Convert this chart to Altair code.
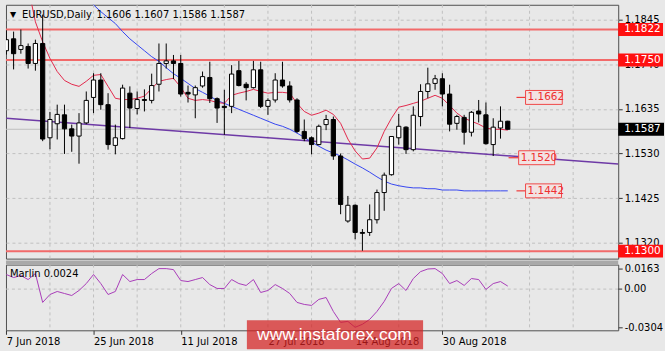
import json
import altair as alt
import pandas as pd

# ---------------- data ----------------
bar_index = list(range(70))
open_ = [1.1772, 1.1800, 1.1775, 1.1782, 1.1742, 1.1789, 1.1567, 1.1600, 1.1621, 1.1588,
         1.1571, 1.1602, 1.1662, 1.1703, 1.1645, 1.1549, 1.1565, 1.1672, 1.1636, 1.1657,
         1.1655, 1.1693, 1.1742, 1.1748, 1.1742, 1.1674, 1.1668, 1.1689, 1.1709, 1.1659,
         1.1641, 1.1641, 1.1725, 1.1693, 1.1685, 1.1727, 1.1641, 1.1656, 1.1703, 1.1689,
         1.1656, 1.1582, 1.1567, 1.1551, 1.1598, 1.1610, 1.1524, 1.1371, 1.1408, 1.1344,
         1.1344, 1.1374, 1.1438, 1.1480, 1.1567, 1.1592, 1.1539, 1.1617, 1.1676, 1.1695,
         1.1706, 1.1670, 1.1601, 1.1615, 1.1580, 1.1630, 1.1621, 1.1551, 1.1590, 1.1606]
high = [1.1820, 1.1817, 1.1822, 1.1789, 1.1798, 1.1857, 1.1628, 1.1645, 1.1645, 1.1598,
        1.1625, 1.1676, 1.1719, 1.1719, 1.1672, 1.1598, 1.1692, 1.1688, 1.1676, 1.1681,
        1.1718, 1.1789, 1.1789, 1.1762, 1.1762, 1.1690, 1.1690, 1.1723, 1.1746, 1.1662,
        1.1680, 1.1738, 1.1748, 1.1698, 1.1748, 1.1746, 1.1660, 1.1719, 1.1746, 1.1700,
        1.1660, 1.1610, 1.1570, 1.1598, 1.1621, 1.1617, 1.1530, 1.1430, 1.1410, 1.1352,
        1.1410, 1.1445, 1.1485, 1.1570, 1.1623, 1.1594, 1.1641, 1.1693, 1.1732, 1.1715,
        1.1719, 1.1692, 1.1621, 1.1621, 1.1630, 1.1656, 1.1650, 1.1613, 1.1641, 1.1607]
low = [1.1763, 1.1728, 1.1765, 1.1730, 1.1725, 1.1559, 1.1540, 1.1563, 1.1529, 1.1534,
       1.1506, 1.1599, 1.1625, 1.1633, 1.1539, 1.1528, 1.1563, 1.1590, 1.1622, 1.1629,
       1.1648, 1.1676, 1.1730, 1.1705, 1.1664, 1.1650, 1.1613, 1.1685, 1.1649, 1.1602,
       1.1574, 1.1625, 1.1688, 1.1655, 1.1683, 1.1637, 1.1621, 1.1650, 1.1685, 1.1650,
       1.1578, 1.1559, 1.1528, 1.1549, 1.1585, 1.1515, 1.1387, 1.1367, 1.1328, 1.1301,
       1.1336, 1.1365, 1.1395, 1.1478, 1.1551, 1.1529, 1.1535, 1.1594, 1.1660, 1.1680,
       1.1641, 1.1582, 1.1586, 1.1551, 1.1570, 1.1603, 1.1551, 1.1524, 1.1565, 1.1586]
close = [1.1798, 1.1765, 1.1784, 1.1742, 1.1789, 1.1564, 1.1610, 1.1622, 1.1588, 1.1571,
         1.1602, 1.1655, 1.1703, 1.1645, 1.1551, 1.1567, 1.1684, 1.1637, 1.1657, 1.1655,
         1.1690, 1.1742, 1.1748, 1.1742, 1.1670, 1.1670, 1.1685, 1.1711, 1.1659, 1.1637,
         1.1638, 1.1717, 1.1690, 1.1685, 1.1727, 1.1641, 1.1655, 1.1703, 1.1689, 1.1656,
         1.1582, 1.1565, 1.1551, 1.1594, 1.1610, 1.1524, 1.1410, 1.1408, 1.1344, 1.1342,
         1.1374, 1.1438, 1.1479, 1.1570, 1.1594, 1.1539, 1.1620, 1.1676, 1.1694, 1.1706,
         1.1670, 1.1599, 1.1617, 1.1580, 1.1627, 1.1623, 1.1553, 1.1592, 1.1606, 1.1587]

red_ma_index = list(range(3, 70))
red_ma = [1.1922, 1.1840, 1.1793, 1.1754, 1.1723, 1.1702, 1.1693, 1.1688, 1.1700, 1.1714,
          1.1716, 1.1688, 1.1660, 1.1657, 1.1657, 1.1660, 1.1665, 1.1683, 1.1700, 1.1704,
          1.1707, 1.1686, 1.1660, 1.1655, 1.1657, 1.1655, 1.1650, 1.1648, 1.1667, 1.1672,
          1.1676, 1.1681, 1.1676, 1.1672, 1.1674, 1.1674, 1.1672, 1.1648, 1.1629, 1.1620,
          1.1625, 1.1632, 1.1622, 1.1601, 1.1564, 1.1536, 1.1517, 1.1519, 1.1543, 1.1582,
          1.1613, 1.1639, 1.1643, 1.1648, 1.1653, 1.1660, 1.1667, 1.1660, 1.1643, 1.1625,
          1.1613, 1.1606, 1.1599, 1.1590, 1.1587, 1.1587, 1.1585]

blue_ma_index = list(range(11, 70))
blue_ma = [1.1899, 1.1880, 1.1864, 1.1850, 1.1836, 1.1817, 1.1800, 1.1786, 1.1772, 1.1758,
           1.1747, 1.1732, 1.1718, 1.1707, 1.1695, 1.1683, 1.1674, 1.1665, 1.1655, 1.1648,
           1.1641, 1.1634, 1.1627, 1.1620, 1.1613, 1.1606, 1.1599, 1.1594, 1.1587, 1.1578,
           1.1568, 1.1557, 1.1547, 1.1538, 1.1531, 1.1524, 1.1515, 1.1505, 1.1496, 1.1486,
           1.1475, 1.1465, 1.1458, 1.1454, 1.1451, 1.1449, 1.1449, 1.1447, 1.1447, 1.1444,
           1.1444, 1.1444, 1.1442, 1.1442, 1.1442, 1.1442, 1.1442, 1.1442, 1.1442]

marlin = [0.0116, 0.0092, 0.0108, 0.0076, 0.0124, -0.0106, -0.0043, -0.0019, -0.0035, -0.0051,
          -0.0011, 0.0044, 0.0116, 0.0044, -0.0043, -0.0019, 0.0116, 0.0060, 0.0076, 0.0076,
          0.0124, 0.0163, 0.0163, 0.0155, 0.0068, 0.0060, 0.0076, 0.0092, 0.0036, 0.0005,
          0.0005, 0.0076, 0.0044, 0.0029, 0.0076, -0.0027, -0.0011, 0.0036, 0.0005, -0.0035,
          -0.0106, -0.0122, -0.0130, -0.0082, -0.0067, -0.0178, -0.0265, -0.0257, -0.0304, -0.0280,
          -0.0241, -0.0178, -0.0098, 0.0005, 0.0044, -0.0011, 0.0084, 0.0139, 0.0160, 0.0163,
          0.0124, 0.0044, 0.0068, 0.0029, 0.0084, 0.0076, -0.0003, 0.0044, 0.0060, 0.0024]

trend_index = [0, 84.2]
trend_price = [1.1613, 1.1505]

level_values = [1.1822, 1.1750, 1.1300]
level_labels = ["1.1822", "1.1750", "1.1300"]
current_price = [1.1587]
current_label = ["1.1587"]

annot_values = [1.1662, 1.1520, 1.1442]
annot_labels = ["1.1662", "1.1520", "1.1442"]
annot_start = [71.45, 70.5, 71.45]     # box left edge (bar units)
annot_end = [76.5, 75.45, 76.4]        # box right edge (bar units)
annot_dash_start = [70.2, 69.1, 70.2]

price_ticks = [1.1845, 1.1740, 1.1635, 1.1530, 1.1425, 1.1320]
date_tick_index = [0, 12, 24, 36, 48, 60]
date_labels = ["7 Jun 2018", "25 Jun 2018", "11 Jul 2018", "27 Jul 2018", "14 Aug 2018", "30 Aug 2018"]
grid_index = list(range(6, 84, 6))
marlin_ticks = [0.0163, 0.0, -0.0304]
marlin_tick_labels = ["0.0163", "0.00", "-0.0304"]

header_symbol = ["EURUSD,Daily"]
header_ohlc = ["1.1606 1.1607 1.1586 1.1587"]
marlin_title = ["Marlin 0.0024"]
watermark = ["www.instaforex.com"]

# ---------------- styling ----------------
FONT = "DejaVu Sans"
BG = "#e8e8e8"
W = 615
H_MAIN = 255
H_LOW = 66

xs = alt.Scale(domain=[-0.05, 84.2], nice=False, zero=False)
ys = alt.Scale(domain=[1.12824, 1.18802], nice=False, zero=False)
ms = alt.Scale(domain=[-0.0328, 0.0195], nice=False, zero=False)


def xn(field):
    return alt.X(field, type="quantitative", scale=xs, axis=None)


def xq(field):
    return alt.X(field, type="quantitative", scale=xs, title=None)


def yq(field):
    return alt.Y(field, type="quantitative", scale=ys, title=None)


def mq(field):
    return alt.Y(field, type="quantitative", scale=ms, title=None)


candles = pd.DataFrame({"i": bar_index, "o": open_, "h": high, "l": low, "c": close})
candles["top"] = candles[["o", "c"]].max(axis=1)
candles["bot"] = candles[["o", "c"]].min(axis=1)
candles["dir"] = ["up" if c >= o else "down" for o, c in zip(open_, close)]

grid_df = pd.DataFrame({"g": grid_index})

y_axis_main = alt.Axis(
    orient="right", values=price_ticks, format=".4f", grid=True, gridDash=[3, 3],
    gridColor="#c0c0c0", tickSize=4, tickColor="#333333", labelFont=FONT, labelFontSize=10,
    labelColor="black", labelPadding=2, domain=False, title=None, labelOverlap=False)

vgrid = alt.Chart(grid_df).mark_rule(color="#c0c0c0", strokeDash=[3, 3], strokeWidth=1).encode(
    x=xn("g"))

cur_df = pd.DataFrame({"p": current_price, "t": current_label})
cur_line = alt.Chart(cur_df).mark_rule(color="#bdbdbd", strokeWidth=1).encode(
    y=alt.Y("p:Q", scale=ys, axis=y_axis_main))

lev_df = pd.DataFrame({"p": level_values, "t": level_labels})
lev_lines = alt.Chart(lev_df).mark_rule(color="#f26a6a", strokeWidth=2).encode(y=yq("p"))

trend_df = pd.DataFrame({"i": trend_index, "p": trend_price})
trend = alt.Chart(trend_df).mark_line(color="#6e3aa6", strokeWidth=1.5, clip=True).encode(x=xn("i"), y=yq("p"))

blue_df = pd.DataFrame({"i": blue_ma_index, "p": blue_ma})
blue = alt.Chart(blue_df).mark_line(color="#3546f0", strokeWidth=1, clip=True).encode(x=xn("i"), y=yq("p"))

red_df = pd.DataFrame({"i": red_ma_index, "p": red_ma})
red = alt.Chart(red_df).mark_line(color="#e2284c", strokeWidth=1, clip=True).encode(x=xn("i"), y=yq("p"))

wicks = alt.Chart(candles).mark_rule(color="black", strokeWidth=1, clip=True).encode(
    x=xn("i"), y=yq("l"), y2="h:Q")

bodies = alt.Chart(candles).transform_calculate(
    xl="datum.i - 0.29", xr="datum.i + 0.29"
).mark_rect(stroke="black", strokeWidth=1, clip=True).encode(
    x=xn("xl:Q"), x2="xr:Q", y=yq("bot"), y2="top:Q",
    fill=alt.Fill("dir:N", scale=alt.Scale(domain=["up", "down"], range=["white", "black"]), legend=None),
)

ann_df = pd.DataFrame({"p": annot_values, "t": annot_labels, "s": annot_start,
                       "e": annot_end, "d": annot_dash_start})
ann_dash = alt.Chart(ann_df).mark_rule(color="#f03a3a", strokeWidth=1.2).encode(
    x=xn("d"), x2="s:Q", y=yq("p"))
ann_box = alt.Chart(ann_df).mark_rect(fill="#f2e2e2", stroke="#f04848", strokeWidth=1,
                                      yOffset=-7, y2Offset=7).encode(
    x=xn("s"), x2="e:Q", y=yq("p"), y2="p:Q")
ann_text = alt.Chart(ann_df).mark_text(align="left", baseline="middle", dx=2, font=FONT,
                                       fontSize=10.5, color="#ee3030").encode(
    x=xn("s"), y=yq("p"), text="t:N")

tag_box = alt.Chart(lev_df).mark_rect(fill="#ff1010", yOffset=-6.5, y2Offset=6.5, clip=False).encode(
    x=alt.value(W), x2=alt.value(W + 45), y=yq("p"), y2="p:Q")
tag_text = alt.Chart(lev_df).mark_text(align="left", baseline="middle", font=FONT, fontSize=10.5,
                                       color="white", clip=False).encode(
    x=alt.value(W + 6), y=yq("p"), text="t:N")
cur_box = alt.Chart(cur_df).mark_rect(fill="black", yOffset=-6.5, y2Offset=6.5, clip=False).encode(
    x=alt.value(W), x2=alt.value(W + 46), y=yq("p"), y2="p:Q")
cur_text = alt.Chart(cur_df).mark_text(align="left", baseline="middle", font=FONT, fontSize=10.5,
                                       color="white", clip=False).encode(
    x=alt.value(W + 6), y=yq("p"), text="t:N")

hdr1 = alt.Chart(pd.DataFrame({"t": ["\u25BC"]})).mark_text(
    align="left", baseline="middle", font=FONT, fontSize=8, color="black").encode(
    x=alt.value(4), y=alt.value(10), text="t:N")
hdr2 = alt.Chart(pd.DataFrame({"t": header_symbol})).mark_text(
    align="left", baseline="middle", font=FONT, fontSize=10, color="black").encode(
    x=alt.value(16), y=alt.value(10), text="t:N")
hdr3 = alt.Chart(pd.DataFrame({"t": header_ohlc})).mark_text(
    align="left", baseline="middle", font=FONT, fontSize=10, color="black").encode(
    x=alt.value(91), y=alt.value(10), text="t:N")

main = alt.layer(
    vgrid, cur_line, lev_lines, trend, blue, red, wicks, bodies,
    ann_dash, ann_box, ann_text, tag_box, tag_text, cur_box, cur_text, hdr1, hdr2, hdr3,
).properties(width=W, height=H_MAIN)

# ---------------- lower pane ----------------
date_expr = "[" + ",".join(json.dumps(s) for s in date_labels) + "][indexof(" + json.dumps(date_tick_index) + ", datum.value)]"
marlin_expr = ("datum.value > 0.001 ? " + json.dumps(marlin_tick_labels[0]) +
               " : (datum.value < -0.001 ? " + json.dumps(marlin_tick_labels[2]) +
               " : " + json.dumps(marlin_tick_labels[1]) + ")")

x_axis_low = alt.Axis(
    orient="bottom", values=date_tick_index, labelExpr=date_expr, labelAlign="left",
    labelFont=FONT, labelFontSize=10, labelColor="black", tickSize=4, tickColor="#333333",
    labelPadding=2, domain=False, grid=False, title=None, labelOverlap=False)
y_axis_low = alt.Axis(
    orient="right", values=marlin_ticks, labelExpr=marlin_expr, labelFont=FONT,
    labelFontSize=10, labelColor="black", tickSize=4, tickColor="#333333", labelPadding=2,
    domain=False, grid=False, title=None, labelOverlap=False)

m_df = pd.DataFrame({"i": bar_index, "m": marlin})
vgrid2 = alt.Chart(grid_df).mark_rule(color="#c0c0c0", strokeDash=[3, 3], strokeWidth=1).encode(
    x=alt.X("g:Q", scale=xs, axis=x_axis_low))
zero_df = pd.DataFrame({"z": [marlin_ticks[1]], "t": [marlin_tick_labels[1]]})
zero_line = alt.Chart(zero_df).mark_rule(color="#c0c0c0", strokeDash=[3, 3], strokeWidth=1).encode(
    y=alt.Y("z:Q", scale=ms, axis=y_axis_low))
# zero level label and tick on the right side
zero_tick = alt.Chart(zero_df).mark_rule(color="#333333", strokeWidth=1, clip=False).encode(
    x=alt.value(W), x2=alt.value(W + 4), y=mq("z"))
zero_text = alt.Chart(zero_df).mark_text(align="left", baseline="middle", font=FONT, fontSize=10,
                                         color="black", clip=False).encode(
    x=alt.value(W + 6), y=mq("z"), text="t:N")

m_line = alt.Chart(m_df).mark_line(color="#a83cb8", strokeWidth=1).encode(
    x=xq("i"), y=mq("m"))

sep = alt.Chart(pd.DataFrame({"k": [0]})).mark_rect(fill="#a9a9a9", clip=False).encode(
    x=alt.value(0), x2=alt.value(W), y=alt.value(-4), y2=alt.value(0))

m_title = alt.Chart(pd.DataFrame({"t": marlin_title})).mark_text(
    align="left", baseline="middle", font=FONT, fontSize=10, color="black").encode(
    x=alt.value(4), y=alt.value(9), text="t:N")

wm_box = alt.Chart(pd.DataFrame({"k": [0]})).mark_rect(fill="#d42020", opacity=0.72, clip=False).encode(
    x=alt.value(242), x2=alt.value(419), y=alt.value(56), y2=alt.value(85))
wm_text = alt.Chart(pd.DataFrame({"t": watermark})).mark_text(
    align="center", baseline="middle", font="Liberation Sans", fontSize=17.5, color="white", clip=False).encode(
    x=alt.value(330), y=alt.value(71), text="t:N")

lower = alt.layer(vgrid2, zero_line, zero_tick, zero_text, m_line, sep, m_title, wm_box, wm_text).properties(
    width=W, height=H_LOW)

chart = alt.vconcat(main, lower, spacing=0).properties(
    padding={"left": 3, "top": 3, "right": 0, "bottom": 0},
    background=BG,
).configure_view(
    stroke="#505050", strokeWidth=1, fill=BG
)

chart.save("out.html", embed_options={"renderer": "svg", "actions": False})
